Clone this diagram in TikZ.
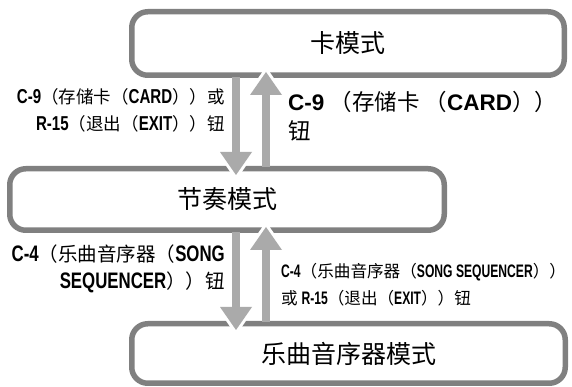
\documentclass[tikz,border=0pt]{standalone}
\usepackage{fontspec}
\setmainfont{Liberation Sans}
\newfontfamily\cjkf{Noto Sans CJK SC}
\newfontfamily\condf{Liberation Sans}[FakeStretch=0.75, Scale=1.15]
\newfontfamily\condg{Liberation Sans}[FakeStretch=0.67, Scale=1.09]
\usetikzlibrary{calc}
\definecolor{boxgray}{HTML}{808080}
\definecolor{arrgray}{HTML}{AAAAAA}
\newcommand\lcnd[1]{{\condf\bfseries #1}}
\newcommand\lcng[1]{{\condg\bfseries #1}}
\newcommand\lwid[1]{{\rmfamily\bfseries #1}}
\newcommand\arrowdn[2]{%
  \fill[arrgray] ($(#1)+(-4,1)$) rectangle ($(#2)+(4,23)$);
  \draw[white, line width=6pt, line join=miter] ($(#2)+(-16,23)$) -- (#2) -- ($(#2)+(16,23)$);
  \fill[arrgray] ($(#2)+(-16,23)$) -- (#2) -- ($(#2)+(16,23)$) -- cycle;
}
\newcommand\arrowup[2]{%
  \fill[arrgray] ($(#1)+(-4,-1)$) rectangle ($(#2)+(4,-23)$);
  \draw[white, line width=6pt, line join=miter] ($(#2)+(-16,-23)$) -- (#2) -- ($(#2)+(16,-23)$);
  \fill[arrgray] ($(#2)+(-16,-23)$) -- (#2) -- ($(#2)+(16,-23)$) -- cycle;
}
\begin{document}
\begin{tikzpicture}[x=1pt,y=1pt,
  modebox/.style={draw=boxgray, line width=5.5pt, rounded corners=16pt, fill=white,
    inner sep=0pt, font=\cjkf\fontsize{25}{30}\selectfont},
  lbl/.style={inner sep=0pt, font=\cjkf\fontsize{17.5}{27}\selectfont},
]
\useasboundingbox (0,0) rectangle (572,387);
\fill[white] (0,0) rectangle (572,387);
\node[modebox, minimum width=432.5pt, minimum height=63.5pt] (card) at (348,343.5) {卡模式};
\node[modebox, minimum width=434.5pt, minimum height=61.5pt] (rhythm) at (227,187.5) {节奏模式};
\node[modebox, minimum width=433.5pt, minimum height=59.5pt] (song) at (348.5,33.5) {乐曲音序器模式};
% top pair
\coordinate (d1s) at (236,0 |- card.south);
\coordinate (d1e) at ($(236,0 |- rhythm.north)+(0,-9)$);
\coordinate (u1s) at (266,0 |- rhythm.north);
\coordinate (u1e) at ($(266,0 |- card.south)+(0,6)$);
\arrowdn{d1s}{d1e}
\arrowup{u1s}{u1e}
% bottom pair
\coordinate (d2s) at (236,0 |- rhythm.south);
\coordinate (d2e) at ($(236,0 |- song.north)+(0,-9)$);
\coordinate (u2s) at (266,0 |- song.north);
\coordinate (u2e) at ($(266,0 |- rhythm.south)+(0,6)$);
\arrowdn{d2s}{d2e}
\arrowup{u2s}{u2e}
% labels
\node[lbl, align=right, anchor=east] (ltl) at (225,276.5)
  {\lcnd{C-9}（存储卡（\lcnd{CARD}））或\\\lcnd{R-15}（退出（\lcnd{EXIT}））钮};
\node[lbl, font=\cjkf\fontsize{22.5}{29}\selectfont, align=left, anchor=west] (ltr) at (288,270.5)
  {\lwid{C-9} （存储卡 （\lwid{CARD}））\\钮};
\node[lbl, font=\cjkf\fontsize{19.5}{27}\selectfont, align=right, anchor=east] (lbl) at (225,118.5)
  {\lcnd{C-4}（乐曲音序器（\lcnd{SONG}\\\lcnd{SEQUENCER}））钮};
\node[lbl, font=\cjkf\fontsize{16.6}{27}\selectfont, align=left, anchor=west] (lbr) at (281,102.5)
  {\lcng{C-4}（乐曲音序器（\lcng{SONG SEQUENCER}））\\或 \lcng{R-15}（退出（\lcng{EXIT}））钮};
\end{tikzpicture}
\end{document}
